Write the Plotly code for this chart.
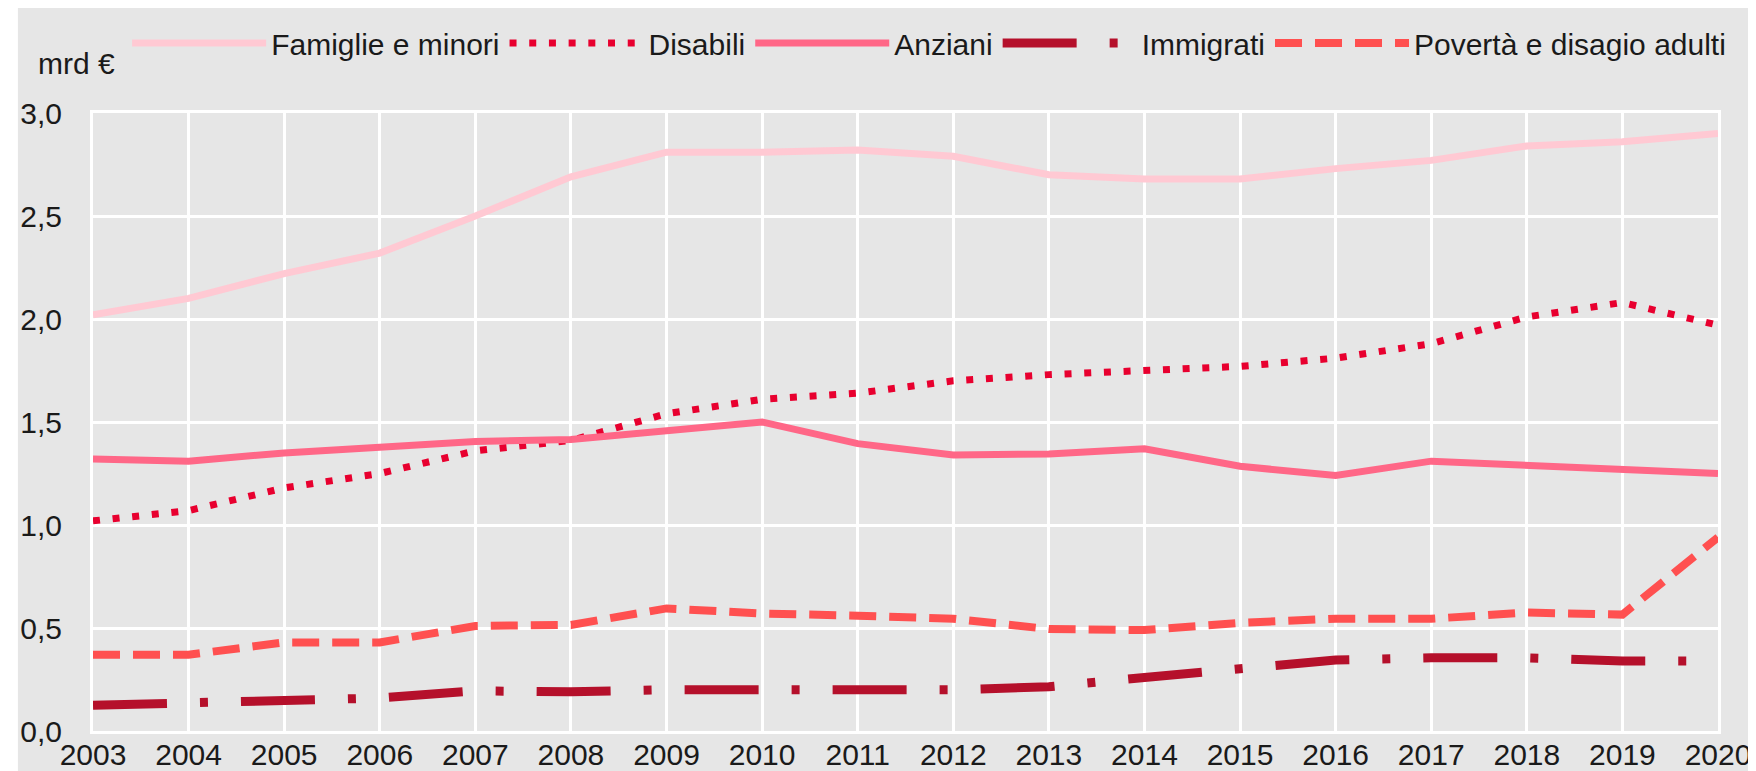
import plotly.graph_objects as go

years = list(range(2003, 2021))

famiglie = [2.02, 2.10, 2.22, 2.32, 2.50, 2.69, 2.81, 2.81, 2.82, 2.79, 2.70, 2.68, 2.68, 2.73, 2.77, 2.84, 2.86, 2.90]
disabili = [1.02, 1.07, 1.18, 1.25, 1.36, 1.41, 1.54, 1.61, 1.64, 1.70, 1.73, 1.75, 1.77, 1.81, 1.88, 2.01, 2.08, 1.97]
anziani = [1.32, 1.31, 1.35, 1.38, 1.405, 1.415, 1.46, 1.50, 1.395, 1.34, 1.345, 1.37, 1.285, 1.24, 1.31, 1.29, 1.275, 1.25]
immigrati = [0.125, 0.14, 0.15, 0.16, 0.195, 0.19, 0.20, 0.195, 0.20, 0.20, 0.215, 0.26, 0.30, 0.345, 0.355, 0.355, 0.34, 0.34]
poverta = [0.37, 0.37, 0.43, 0.43, 0.51, 0.515, 0.595, 0.57, 0.56, 0.545, 0.495, 0.49, 0.525, 0.545, 0.545, 0.575, 0.565, 0.94]

y_ticks = [0, 0.5, 1.0, 1.5, 2.0, 2.5, 3.0]
y_labels = ["0,0", "0,5", "1,0", "1,5", "2,0", "2,5", "3,0"]

series = [
    ("Famiglie e minori", famiglie, "#ffc9d3", 7, "solid"),
    ("Disabili", disabili, "#e8002f", 7, "7px,12.7px"),
    ("Anziani", anziani, "#ff6787", 7, "solid"),
    ("Immigrati", immigrati, "#b5102b", 9, "74px,33px,8px,33px"),
    ("Povertà e disagio adulti", poverta, "#ff5050", 8, "27px,13px"),
]

fig = go.Figure()
for name, vals, color, width, dash in series:
    fig.add_trace(go.Scatter(
        x=years, y=vals, mode="lines", name=name,
        line=dict(color=color, width=width, dash=dash),
    ))

bg = "#e6e6e6"
# the page body adds an 8px white margin, so the figure is 8px smaller
fig.update_layout(
    width=1748, height=763,
    margin=dict(l=85, r=38, t=105, b=40, autoexpand=False),
    paper_bgcolor=bg, plot_bgcolor=bg,
    font=dict(family="Liberation Sans, Arial, sans-serif", size=30, color="#1a1a1a"),
    showlegend=True,
    legend=dict(
        orientation="h", x=0.021, xanchor="left",
        yref="container", y=1 - 35 / 763, yanchor="middle",
        font=dict(size=30), itemwidth=134, bgcolor="rgba(0,0,0,0)",
        traceorder="normal",
    ),
    xaxis=dict(
        range=[2003, 2020], tickmode="array", tickvals=years,
        showgrid=True, gridcolor="white", gridwidth=3,
        showline=True, linecolor="white", linewidth=3, mirror=True,
        zeroline=False, ticks="", tickfont=dict(size=30), automargin=False,
        ticklabelstandoff=-5,
    ),
    yaxis=dict(
        range=[0, 3], tickmode="array", tickvals=y_ticks, ticktext=y_labels,
        showgrid=True, gridcolor="white", gridwidth=3,
        showline=True, linecolor="white", linewidth=3, mirror=True,
        zeroline=False, ticks="outside", ticklen=22, tickcolor=bg,
        tickfont=dict(size=30), automargin=False,
    ),
    annotations=[dict(
        text="mrd €", xref="paper", yref="paper", x=-0.035, y=1.080,
        xanchor="left", yanchor="middle", showarrow=False, font=dict(size=30),
    )],
    shapes=[
        dict(type="rect", xref="paper", yref="paper", x0=-0.1, x1=-0.0462, y0=-0.2, y1=1.3,
             fillcolor="white", line=dict(width=0), layer="below"),
    ],
)

fig.write_html("out.html")
